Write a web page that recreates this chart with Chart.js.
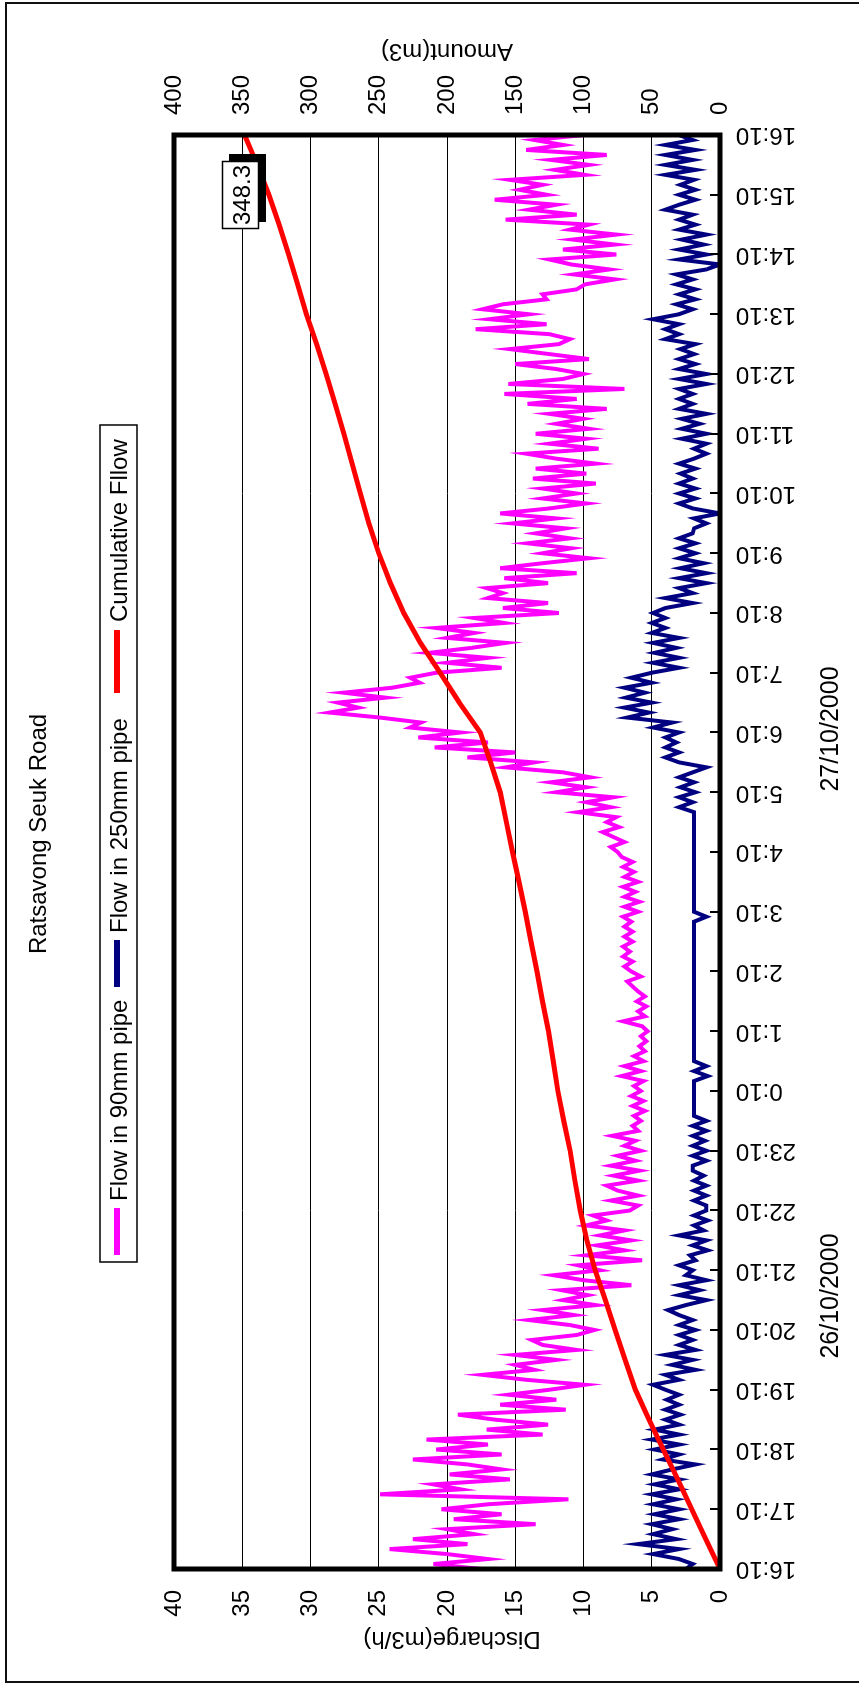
<!DOCTYPE html>
<html>
<head>
<meta charset="utf-8">
<title>Ratsavong Seuk Road</title>
<script src="https://cdn.jsdelivr.net/npm/chart.js@4.4.1/dist/chart.umd.min.js"></script>
<style>
  html, body { margin: 0; padding: 0; background: #fff; overflow: hidden; }
  #page { position: relative; width: 859px; height: 1684px; overflow: hidden; background: #fff; }
  /* the chart is laid out landscape and turned a quarter turn to stand upright on the page */
  #frame { position: absolute; left: 0; top: 0; width: 1684px; height: 859px;
           transform-origin: 0 0; transform: translate(0, 1684px) rotate(-90deg); }
  canvas { display: block; }
</style>
</head>
<body>
<div id="page"><div id="frame"><canvas id="chart" width="1684" height="859"></canvas></div></div>
<script>
// Hour labels along the time axis (26/10/2000 16:10 to 27/10/2000 16:10)
const hourLabels = ['16:10','17:10','18:10','19:10','20:10','21:10','22:10','23:10',
  '0:10','1:10','2:10','3:10','4:10','5:10','6:10','7:10','8:10','9:10','10:10',
  '11:10','12:10','13:10','14:10','15:10','16:10'];

// Discharge in the 90mm pipe (m3/h), one reading every 5 minutes
const flow90mm = [
  17.5,21.0,17.0,20.0,24.2,18.5,22.5,18.0,20.0,13.5,19.5,16.0,20.4,17.0,11.1,24.9,19.0,21.0,15.4,19.8,
  16.0,18.5,22.5,16.0,20.8,17.0,21.5,13.0,17.1,12.6,16.5,19.2,11.3,16.1,12.0,15.5,12.5,9.9,14.2,17.4,
  13.6,15.0,12.0,15.0,10.5,13.0,13.8,10.5,9.2,11.0,14.0,10.7,13.0,9.1,11.5,9.7,11.6,6.5,10.0,12.2,
  8.8,10.4,5.7,9.8,7.0,9.0,6.5,8.8,7.0,9.8,8.3,9.3,6.6,
  6.0,8.0,6.0,7.5,8.3,6.0,7.8,5.9,8.0,6.2,7.5,5.8,7.0,6.2,7.9,6.0,6.4,5.8,6.3,5.5,
  6.4,5.6,6.5,5.8,6.3,5.6,7.2,5.8,7.0,5.6,6.3,5.5,5.9,5.4,5.8,5.3,5.7,7.1,5.5,6.0,
  5.4,6.1,5.5,6.0,6.4,6.8,5.8,6.5,7.0,6.4,7.1,6.6,7.1,6.4,7.0,6.4,7.0,6.5,7.1,6.0,
  7.0,5.9,7.0,6.2,7.1,6.0,7.0,6.3,7.1,6.4,7.2,7.5,
  8.0,7.0,7.8,8.6,7.4,8.3,7.6,10.4,8.0,9.8,7.8,12.0,9.8,12.4,9.5,11.5,15.7,13.6,18.5,15.0,
  20.9,17.0,22.1,19.0,22.7,21.9,24.9,28.6,26.5,28.0,24.5,27.6,24.0,22.0,22.7,20.8,16.0,20.0,17.0,21.3,
  18.2,15.7,20.0,18.0,20.8,15.8,18.0,11.8,15.9,12.6,17.0,15.9,17.1,12.6,15.8,10.5,16.1,13.0,9.6,13.0,
  10.9,14.1,11.0,13.5,11.3,15.2,12.0,16.1,12.5,9.8,13.0,10.5,
  13.0,9.1,13.7,9.8,13.5,9.1,12.0,14.2,8.9,12.5,9.8,13.5,9.6,12.0,10.0,12.5,8.3,14.1,10.5,15.8,
  7.0,15.5,11.5,10.0,12.0,15.0,9.6,12.5,15.4,11.8,11.0,12.5,17.9,12.7,16.9,14.0,17.4,15.9,12.7,13.0,
  10.5,9.9,7.7,10.7,8.1,10.9,12.5,7.6,11.5,7.7,10.8,7.6,11.0,9.6,15.7,10.5,14.0,12.0,16.5,12.7,
  14.7,13.0,15.4,9.9,12.1,9.6,12.4,8.3,14.2,11.5,13.6,10.0
];

// Discharge in the 250mm pipe (m3/h), one reading every 5 minutes
const flow250mm = [
  2.5,2.0,3.0,4.9,3.0,6.0,3.2,4.9,3.5,5.0,3.0,4.8,3.0,4.9,3.2,5.0,3.0,4.8,3.0,5.0,
  3.5,1.8,4.2,3.0,4.8,3.0,5.0,3.0,4.8,3.0,4.0,2.9,4.0,3.0,3.9,3.0,4.0,4.9,3.0,4.0,
  1.8,3.5,2.0,4.0,1.8,3.0,2.0,3.0,1.8,3.0,2.0,3.0,3.8,2.5,1.0,3.0,1.5,3.0,1.0,2.5,
  2.0,3.0,1.8,2.2,0.9,2.0,1.0,3.0,1.2,1.9,0.9,1.9,1.0,
  1.0,1.9,1.0,1.9,1.0,1.9,1.2,2.0,2.0,1.0,2.0,1.0,2.0,1.1,2.0,1.0,2.0,1.0,1.9,1.9,
  1.9,1.9,1.9,1.9,1.9,1.9,0.9,1.9,1.0,1.9,1.9,1.9,1.9,1.9,1.9,1.9,1.9,1.9,1.9,1.9,
  1.9,1.9,1.9,1.9,1.9,1.9,1.9,1.9,1.9,1.9,1.9,1.9,1.9,1.9,1.9,1.9,1.9,1.9,1.0,1.9,
  1.9,1.9,1.9,1.9,1.9,1.9,1.9,1.9,1.9,1.9,1.9,1.9,
  1.9,1.9,1.9,1.9,1.9,1.9,1.9,1.9,3.0,2.0,3.0,1.8,2.9,1.9,3.0,2.0,1.0,3.0,4.0,3.0,
  4.0,3.2,4.0,3.0,4.9,3.5,6.8,5.2,7.0,5.0,6.9,5.5,7.0,5.0,6.5,5.0,3.0,4.9,3.0,4.8,
  3.2,4.9,3.0,5.0,4.0,5.0,4.0,4.9,4.0,2.0,4.0,2.0,3.0,1.0,3.0,1.0,2.9,1.2,3.0,1.8,
  3.0,1.8,3.0,2.0,1.9,1.0,1.9,0.0,2.0,3.0,1.8,3.0,
  1.8,3.0,2.0,2.9,1.8,3.0,1.9,1.0,1.9,1.0,2.8,1.0,2.8,1.5,2.8,1.0,3.0,2.0,3.0,2.0,
  3.0,1.0,3.0,1.0,3.0,1.8,3.0,1.9,2.9,1.8,4.0,3.0,4.0,3.0,4.9,3.0,2.0,3.2,1.8,3.0,
  1.8,3.2,2.0,3.2,1.0,0.0,3.0,1.0,3.0,1.2,2.8,1.0,3.0,1.8,3.0,2.0,4.0,3.0,1.8,3.0,
  1.8,2.9,1.9,4.0,1.8,4.0,2.0,4.0,1.8,4.0,2.0,3.0
];

// Cumulative volume through both pipes (m3), one reading every 30 minutes
const cumulativeFlow = [
  0, 10.4, 20.7, 31, 41.5, 52, 62, 69.5, 76.8, 84, 91.5, 97.5, 102.4, 106.3, 109.8, 114.5,
  118.8, 122.2, 125.6, 130, 134.1, 138.5, 142.7, 147.3, 152, 156.5, 161, 168, 175.6, 191,
  205, 219.5, 231.7, 241.5, 250, 257.3, 263.4, 269.5, 275.6, 282, 288.5, 295.5, 303, 309.5,
  316, 323, 330.5, 339, 348.3
];

const dateLabels = ['26/10/2000', '27/10/2000'];
const seriesNames = ['Flow in 90mm pipe', 'Flow in 250mm pipe', 'Cumulative Fllow'];

const FONT = '"Liberation Sans", Arial, Helvetica, sans-serif';
const W = 1684, H = 859;
const AREA = { left: 115, right: 1549, top: 174, bottom: 720 };
const COLORS = ['#FF00FF', '#000080', '#FF0000'];

Chart.defaults.font.family = FONT;
Chart.defaults.font.size = 24;
Chart.defaults.color = '#000';

function toPoints(values, stepMinutes) {
  return values.map((v, i) => ({ x: i * stepMinutes, y: v }));
}

function font(size) { return size + 'px ' + FONT; }

// titles, legend, frame, hour ticks and the end-value label
const decorations = {
  id: 'decorations',
  beforeDraw(chart) {
    const c = chart.ctx;
    c.save();
    c.fillStyle = '#fff';
    c.fillRect(0, 0, W, H);
    c.restore();
  },
  afterDraw(chart) {
    const c = chart.ctx;
    const a = chart.chartArea;
    c.save();

    // outer border
    c.strokeStyle = '#111';
    c.lineWidth = 2;
    c.beginPath();
    c.moveTo(2, H + 5); c.lineTo(2, 6); c.lineTo(1681, 6); c.lineTo(1681, H + 5);
    c.stroke();

    // heavy frame round the plot
    c.strokeStyle = '#000';
    c.lineWidth = 5;
    c.strokeRect(a.left, a.top, a.right - a.left, a.bottom - a.top);

    // hour tick marks, inside the frame
    const xs = chart.scales.x;
    c.lineWidth = 2;
    c.beginPath();
    xs.ticks.forEach(t => {
      const px = Math.round(xs.getPixelForValue(t.value));
      c.moveTo(px, a.bottom);
      c.lineTo(px, a.bottom - 10);
    });
    c.stroke();

    c.fillStyle = '#000';
    c.textBaseline = 'alphabetic';

    // chart title
    c.font = font(24);
    c.textAlign = 'center';
    c.fillText('Ratsavong Seuk Road', 850, 46);

    // legend
    c.lineWidth = 1.5;
    c.strokeStyle = '#000';
    c.strokeRect(422, 100, 837, 37);
    const legendItems = [
      { key: [429, 476], textX: 483 },
      { key: [697, 744], textX: 751 },
      { key: [991, 1054], textX: 1062 }
    ];
    c.textAlign = 'left';
    legendItems.forEach((it, i) => {
      c.fillStyle = COLORS[i];
      c.fillRect(it.key[0], 114, it.key[1] - it.key[0], 6);
      c.fillStyle = '#000';
      c.fillText(seriesNames[i], it.textX, 127);
    });

    // axis titles, both read upward
    c.save();
    c.translate(51.5, 452);
    c.rotate(-Math.PI / 2);
    c.textAlign = 'center';
    c.fillText('Discharge(m3/h)', 0, 0);
    c.restore();

    c.save();
    c.translate(1639.5, 447);
    c.rotate(-Math.PI / 2);
    c.textAlign = 'center';
    c.fillText('Amount(m3)', 0, 0);
    c.restore();

    // day labels under the hour labels
    c.font = font(25);
    c.textAlign = 'center';
    c.fillText(dateLabels[0], 388, 838);
    c.fillText(dateLabels[1], 955, 838);

    // value label at the end of the cumulative line
    const meta = chart.getDatasetMeta(2);
    const last = meta.data[meta.data.length - 1];
    const lastValue = cumulativeFlow[cumulativeFlow.length - 1];
    const text = lastValue.toFixed(1);
    c.font = font(24);
    const tw = c.measureText(text).width;
    const bw = Math.round(tw + 8), bh = 37;
    const bx = Math.round(last.x - 26 - bw), by = Math.round(last.y - 4 - bh / 2);
    c.fillStyle = '#000';
    c.fillRect(bx + 7, by + 7, bw, bh);
    c.fillStyle = '#fff';
    c.fillRect(bx, by, bw, bh);
    c.strokeStyle = '#000';
    c.lineWidth = 1.5;
    c.strokeRect(bx + 0.5, by + 0.5, bw - 1, bh - 1);
    c.fillStyle = '#000';
    c.textAlign = 'center';
    c.fillText(text, bx + bw / 2, by + bh / 2 + 9);

    c.restore();
  }
};

new Chart(document.getElementById('chart'), {
  type: 'line',
  data: {
    datasets: [
      { label: seriesNames[0], data: toPoints(flow90mm, 5), borderColor: COLORS[0],
        borderWidth: 4, yAxisID: 'y', order: 3 },
      { label: seriesNames[1], data: toPoints(flow250mm, 5), borderColor: COLORS[1],
        borderWidth: 4, yAxisID: 'y', order: 2 },
      { label: seriesNames[2], data: toPoints(cumulativeFlow, 30), borderColor: COLORS[2],
        borderWidth: 5, yAxisID: 'y1', order: 1 }
    ]
  },
  options: {
    responsive: false,
    animation: false,
    devicePixelRatio: 1,
    elements: { point: { radius: 0 }, line: { tension: 0, fill: false } },
    layout: { padding: { left: 0, right: 0, top: AREA.top, bottom: 0 } },
    plugins: { legend: { display: false }, title: { display: false }, tooltip: { enabled: false } },
    scales: {
      x: {
        type: 'linear', position: 'bottom', min: 0, max: 1440,
        afterFit: s => { s.height = H - AREA.bottom; },
        ticks: {
          stepSize: 60, autoSkip: false, minRotation: 90, maxRotation: 90, padding: 16,
          callback: v => hourLabels[Math.round(v / 60)]
        },
        grid: { display: false, drawTicks: false },
        border: { display: false }
      },
      y: {
        position: 'left', min: 0, max: 40,
        afterFit: s => { s.width = AREA.left; },
        ticks: { stepSize: 5, padding: 21 },
        grid: { color: '#000', lineWidth: 1, drawTicks: false },
        border: { display: false }
      },
      y1: {
        position: 'right', min: 0, max: 400,
        afterFit: s => { s.width = W - AREA.right; },
        ticks: { stepSize: 50, padding: 20 },
        grid: { display: false, drawTicks: false },
        border: { display: false }
      }
    }
  },
  plugins: [decorations]
});
</script>
</body>
</html>
